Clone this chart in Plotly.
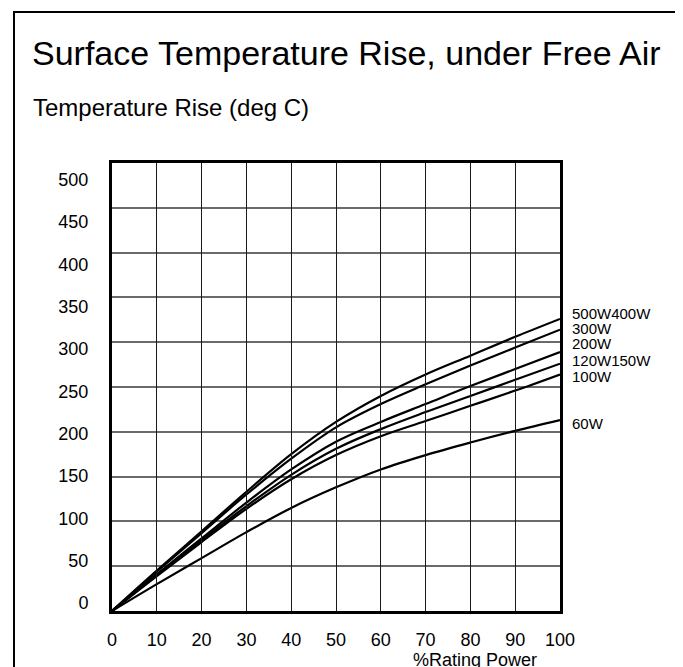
import plotly.graph_objects as go

# ---- data ----
rating_pct = [0, 10, 20, 30, 40, 50, 60, 70, 80, 90, 100]
rise_500w_400w = [0, 45, 89, 133, 175, 211, 240, 264, 285, 306, 326]
rise_300w = [0, 44, 87, 130, 170, 205, 231, 253, 274, 294, 314]
rise_200w = [0, 41, 81, 121, 158, 189, 211, 231, 251, 270, 289]
rise_120w_150w = [0, 40, 79, 117, 152, 181, 203, 222, 240, 258, 276]
rise_100w = [0, 39, 77, 114, 147, 174, 195, 212, 229, 246, 264]
rise_60w = [0, 30, 59, 88, 115, 138, 158, 174, 188, 201, 213]

series = [rise_500w_400w, rise_300w, rise_200w, rise_120w_150w, rise_100w, rise_60w]
curve_labels = ["500W400W", "300W", "200W", "120W150W", "100W", "60W"]
label_y = [332, 315, 298, 280, 262, 209]

x_ticks = [0, 10, 20, 30, 40, 50, 60, 70, 80, 90, 100]
y_ticks = [0, 50, 100, 150, 200, 250, 300, 350, 400, 450, 500]

FONT = "Arial, Liberation Sans, sans-serif"

W, H = 683, 667
L, R, T, B = 104, 131, 155, 64
pw = W - L - R
ph = H - T - B

def px_x(p):
    return (p - L) / pw

def px_y(p):
    return (H - B - p) / ph

fig = go.Figure()
for ys, name in zip(series, curve_labels):
    fig.add_trace(go.Scatter(
        x=rating_pct, y=ys, mode="lines", name=name,
        line=dict(color="black", width=2.2, shape="spline", smoothing=1.0),
        showlegend=False, hoverinfo="skip",
    ))

# invisible trace to carry the y tick-label axis
fig.add_trace(go.Scatter(x=[None], y=[None], yaxis="y2", showlegend=False, hoverinfo="skip"))

for txt, yy in zip(curve_labels, label_y):
    fig.add_annotation(x=100, y=yy, xref="x", yref="y", text=txt, showarrow=False,
                       xanchor="left", yanchor="middle", xshift=10,
                       font=dict(family=FONT, size=15, color="black"))

# subtitle (y-axis caption)
fig.add_annotation(x=px_x(23), y=px_y(100), xref="paper", yref="paper",
                   text="Temperature Rise (deg C)", showarrow=False,
                   xanchor="left", yanchor="middle",
                   font=dict(family=FONT, size=24, color="black"))
# x-axis caption
fig.add_annotation(x=px_x(467), y=px_y(652), xref="paper", yref="paper",
                   text="%Rating Power", showarrow=False,
                   xanchor="center", yanchor="middle",
                   font=dict(family=FONT, size=18, color="black"))

# outer frame
fig.add_shape(type="rect", xref="paper", yref="paper",
              x0=px_x(6), x1=px_x(678), y0=px_y(690), y1=px_y(4),
              line=dict(color="black", width=2), fillcolor="rgba(0,0,0,0)", layer="below")

fig.update_layout(
    width=W, height=H,
    margin=dict(l=L, r=R, t=T, b=B, pad=0),
    paper_bgcolor="white", plot_bgcolor="rgba(0,0,0,0)",
    font=dict(family=FONT, color="black"),
    title=dict(text="Surface Temperature Rise, under Free Air",
               xref="container", yref="container",
               x=24 / W, xanchor="left", y=1 - 45 / H, yanchor="middle",
               pad=dict(l=0, r=0, t=0, b=0),
               font=dict(family=FONT, size=34, color="black")),
    xaxis=dict(range=[0, 100], tickvals=x_ticks, ticktext=[str(v) for v in x_ticks],
               showgrid=True, gridcolor="#1a1a1a", gridwidth=1,
               showline=True, linecolor="black", linewidth=3, mirror=True,
               ticks="outside", ticklen=10, tickcolor="rgba(0,0,0,0)",
               tickfont=dict(family=FONT, size=18, color="black"),
               zeroline=False, fixedrange=True, automargin=False),
    yaxis=dict(range=[0, 500], tickvals=y_ticks, showticklabels=False,
               showgrid=True, gridcolor="#6a6a6a", gridwidth=1.5,
               showline=True, linecolor="black", linewidth=3, mirror=True,
               zeroline=False, fixedrange=True, automargin=False),
    yaxis2=dict(range=[0, 500], tickvals=y_ticks, ticktext=[str(v) for v in y_ticks],
                domain=[px_y(595), px_y(171.5)], anchor="free", position=0,
                showgrid=False, showline=False, zeroline=False,
                ticks="outside", ticklen=20, tickcolor="rgba(0,0,0,0)",
                tickfont=dict(family=FONT, size=18, color="black"),
                fixedrange=True, automargin=False),
)

fig.write_html("out.html")
